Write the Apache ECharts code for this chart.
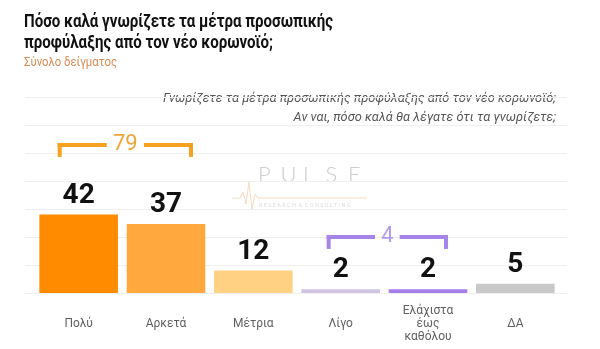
<!DOCTYPE html>
<html><head><meta charset="utf-8">
<script src="https://cdn.jsdelivr.net/npm/echarts@6/dist/echarts.min.js"></script>
<style>html,body{margin:0;padding:0;background:#fff}#c{width:600px;height:349px}</style>
</head><body><div id="c"></div>
<script>
// ---- data ----
const categories = ['Πολύ', 'Αρκετά', 'Μέτρια', 'Λίγο', 'Ελάχιστα\nέως\nκαθόλου', 'ΔΑ'];
const values = [42, 37, 12, 2, 2, 5];
const groupStart = [0, 3];
const groupEnd = [1, 4];
const groupTotals = [79, 4];

const titleLines = ['Πόσο καλά γνωρίζετε τα μέτρα προσωπικής', 'προφύλαξης από τον νέο κορωνοϊό;'];
const subtitleText = 'Σύνολο δείγματος';
const questionLines = ['Γνωρίζετε τα μέτρα προσωπικής προφύλαξης από τον νέο κορωνοϊό;', 'Αν ναι, πόσο καλά θα λέγατε ότι τα γνωρίζετε;'];

// ---- styles / layout ----
const barColors = ['#FF8C00', '#FFA83E', '#FFD183', '#CFC4E2', '#A47FE9', '#C9C9C9'];
const bracketStyle = [
  { color: '#F7A21E', textColor: '#F2A43C', level: 80.4, dl: -21, dr: 27 },
  { color: '#A685E8', textColor: '#B39BEA', level: 31.1, dl: -14, dr: 20 }
];

// condensed look: measure with canvas and squeeze horizontally
const mctx = document.createElement('canvas').getContext('2d');
function widthOf(text, font) { mctx.font = font; return mctx.measureText(text).width; }
const titleFont = 'bold 18px Roboto';
const titleScale = 309 / widthOf(titleLines[0], titleFont);
const subFont = '13.5px Roboto';
const subScale = 93 / widthOf(subtitleText, subFont);
const qFont = 'italic 13px Roboto';
const qScale = 393 / widthOf(questionLines[0], qFont);

const chart = echarts.init(document.getElementById('c'), null, { renderer: 'canvas' });

const wm = 'PULSE'.split('');
const option = {
  backgroundColor: '#fff',
  animation: false,
  graphic: [
    { type: 'text', x: 24, y: 22, scaleX: titleScale, style: { text: titleLines[0], font: titleFont, fill: '#111', verticalAlign: 'middle' } },
    { type: 'text', x: 24, y: 43, scaleX: titleScale, style: { text: titleLines[1], font: titleFont, fill: '#111', verticalAlign: 'middle' } },
    { type: 'text', x: 24, y: 63, scaleX: subScale, style: { text: subtitleText, font: subFont, fill: '#D98B52', verticalAlign: 'middle' } },
    { type: 'text', x: 556, y: 99, scaleX: qScale, style: { text: questionLines[0], font: qFont, fill: '#555', align: 'right', verticalAlign: 'middle' } },
    { type: 'text', x: 556, y: 118, scaleX: qScale, style: { text: questionLines[1], font: qFont, fill: '#555', align: 'right', verticalAlign: 'middle' } },
    {
      type: 'group', x: 232, y: 164, silent: true,
      children: wm.map((ch, i) => ({ type: 'text', x: 26 + i * 22.5, y: 0, style: { text: ch, font: '300 22px Lato', fill: '#cdcdcd' } })).concat([
        { type: 'text', x: 27, y: 39, style: { text: 'R E S E A R C H  &  C O N S U L T I N G', font: '5.5px Roboto', fill: '#dcdcdc' } },
        { type: 'polyline', shape: { points: [[0, 34], [8, 34], [11, 28], [14, 40], [17, 18], [20, 46], [23, 30], [26, 34], [135, 34]] },
          style: { stroke: '#f6dcc0', lineWidth: 1, fill: null } }
      ])
    }
  ],
  grid: [
    { left: 25, right: 33, top: 97, bottom: 56 },
    { left: 35, right: 41, top: 97, bottom: 56 }
  ],
  xAxis: [
    { gridIndex: 0, type: 'value', min: 0, max: 1, show: false },
    {
      gridIndex: 1, type: 'category', data: categories,
      axisLine: { show: false }, axisTick: { show: false },
      axisLabel: { color: '#5f5f5f', fontFamily: 'Roboto', fontSize: 12, lineHeight: 13, margin: 31, verticalAlign: 'middle', interval: 0 }
    }
  ],
  yAxis: [
    {
      gridIndex: 0, type: 'value', min: 0, max: 105, interval: 15,
      axisLine: { show: false }, axisTick: { show: false }, axisLabel: { show: false },
      splitLine: { lineStyle: { color: '#efefef', width: 1 } }
    },
    { gridIndex: 1, type: 'value', min: 0, max: 105, interval: 15, show: false, splitLine: { show: false } }
  ],
  series: [
    {
      type: 'bar', xAxisIndex: 1, yAxisIndex: 1,
      data: values.map((v, i) => ({ value: v, itemStyle: { color: barColors[i] } })),
      barCategoryGap: '10%',
      label: {
        show: true, position: 'top', distance: 5,
        fontFamily: 'Roboto', fontWeight: 'bold', fontSize: 28, color: '#111'
      },
      z: 2
    },
    {
      type: 'custom', xAxisIndex: 1, yAxisIndex: 1,
      data: groupStart.map((s, i) => [s, groupEnd[i], groupTotals[i]]),
      renderItem: function (params, api) {
        const st = bracketStyle[params.dataIndex];
        const s = api.value(0), e = api.value(1), t = api.value(2);
        const x0 = api.coord([s, 0])[0] + st.dl;
        const x1 = api.coord([e, 0])[0] + st.dr;
        const y = api.coord([0, st.level])[1];
        const th = 4, tick = 14;
        const txt = String(t);
        const xm = (x0 + x1) / 2;
        const gap = txt.length * 6.3 + 6;
        return {
          type: 'group',
          children: [
            { type: 'rect', shape: { x: x0, y: y, width: xm - gap - x0, height: th }, style: { fill: st.color } },
            { type: 'rect', shape: { x: xm + gap, y: y, width: x1 - xm - gap, height: th }, style: { fill: st.color } },
            { type: 'rect', shape: { x: x0, y: y, width: th, height: tick }, style: { fill: st.color } },
            { type: 'rect', shape: { x: x1 - th, y: y, width: th, height: tick }, style: { fill: st.color } },
            { type: 'text', style: { text: txt, x: xm, y: y + 2, align: 'center', verticalAlign: 'middle', font: '22px Roboto', fill: st.textColor } }
          ]
        };
      },
      z: 3
    }
  ]
};
chart.setOption(option);
</script>
</body></html>
